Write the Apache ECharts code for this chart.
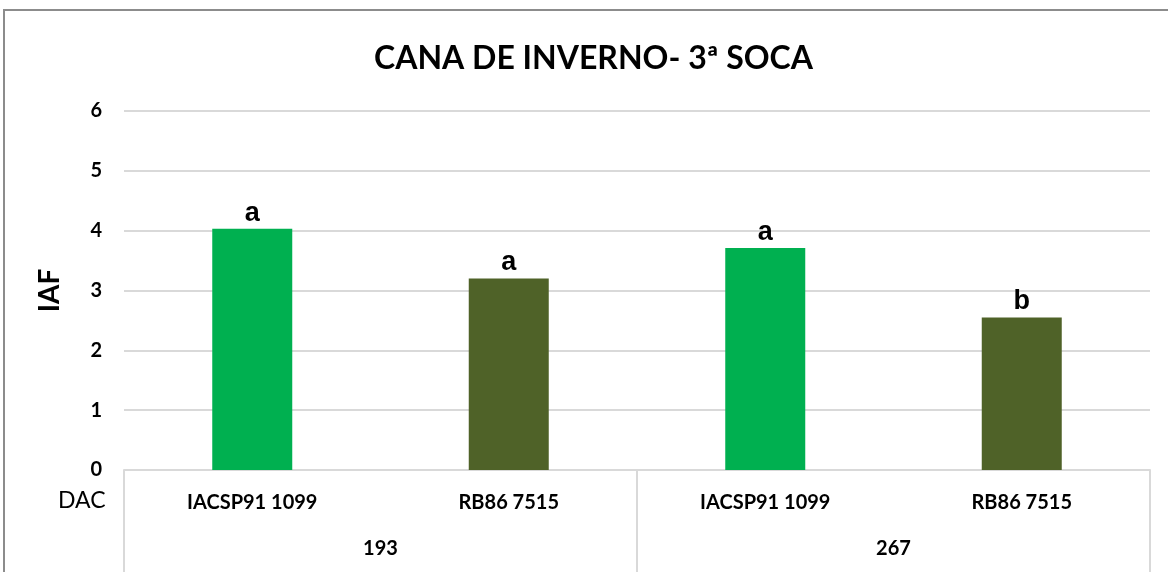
<html style="height: 100%">
<meta http-equiv=Content-Type content="text/html;charset=utf-8" />
<script type="text/javascript" src="https://cdn.jsdelivr.net/npm/echarts@6/dist/echarts.min.js"></script>
<body style="height: 100%; margin: 0; background: #fff">
<div id="echart" style="width: 1168px; height: 572px"></div>
<script type="text/javascript">
	// cultivares e épocas (DAC)
	var cultivares = ["IACSP91 1099", "RB86 7515", "IACSP91 1099", "RB86 7515"];
	var dac = ["193", "267"];
	var iaf = [4.03, 3.2, 3.71, 2.55];
	var letras = ["a", "a", "a", "b"];
	var cores = ["#00b050", "#4f6228", "#00b050", "#4f6228"];
	var yTicks = [0, 1, 2, 3, 4, 5, 6];

	var dados = [];
	for (var i = 0; i < iaf.length; i++) {
		dados.push({ value: iaf[i], itemStyle: { color: cores[i] } });
	}

	var myChart = echarts.init(document.getElementById('echart'));
	myChart.setOption({
		animation: false,
		title: {
			text: "CANA DE INVERNO- 3ª SOCA",
			left: 369,
			top: 38,
			textStyle: { fontFamily: 'Lato', fontWeight: 'bold', fontSize: 32, color: '#000' }
		},
		graphic: [
			{ type: 'polyline', shape: { points: [[4, 580], [4, 10], [1170, 10]] },
			  style: { stroke: '#8c8c8c', lineWidth: 2, fill: null } },
			{ type: 'text', left: 58, top: 489,
			  style: { text: 'DAC', fontFamily: 'Lato', fontSize: 23, fill: '#000' } }
		],
		grid: { left: 124, right: 18, top: 111, bottom: 102 },
		xAxis: [
			{
				type: 'category',
				data: cultivares,
				axisLine: { lineStyle: { color: '#d9d9d9', width: 2 } },
				axisTick: { show: false },
				axisLabel: { margin: 23, fontFamily: 'Lato', fontWeight: 'bold', fontSize: 20, color: '#000' }
			},
			{
				type: 'category',
				data: dac,
				position: 'bottom',
				axisLine: { show: false },
				axisTick: { show: true, length: 102, interval: 0, lineStyle: { color: '#d9d9d9', width: 2 } },
				axisLabel: { margin: 69, fontFamily: 'Lato', fontWeight: 'bold', fontSize: 20, color: '#000' }
			}
		],
		yAxis: {
			type: 'value',
			min: yTicks[0],
			max: yTicks[yTicks.length - 1],
			interval: 1,
			name: 'IAF',
			nameLocation: 'middle',
			nameGap: 60,
			nameTextStyle: { fontFamily: 'Lato', fontWeight: 'bold', fontSize: 28, color: '#000' },
			axisLine: { show: false },
			axisTick: { show: false },
			axisLabel: { margin: 22, fontFamily: 'Lato', fontWeight: 'bold', fontSize: 20, color: '#000' },
			splitLine: { lineStyle: { color: '#d9d9d9', width: 2 } }
		},
		series: [{
			type: 'bar',
			xAxisIndex: 0,
			barWidth: 80,
			data: dados,
			label: {
				show: true,
				position: 'top',
				distance: 2,
				formatter: function (p) { return letras[p.dataIndex]; },
				fontFamily: 'Liberation Sans',
				fontWeight: 'bold',
				fontSize: 27,
				color: '#000'
			}
		}]
	});
</script>
</body>
</html>
